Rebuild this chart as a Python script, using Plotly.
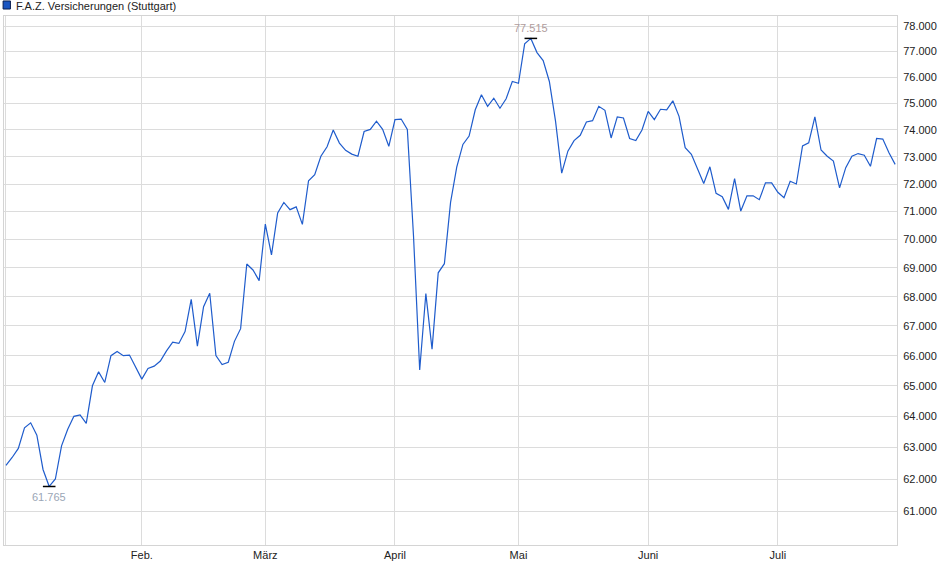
import numpy as np
import pandas as pd
import plotly.graph_objects as go

# trading days at Boerse Stuttgart, Jan 2 - Jul 28 2025
holidays = ["2025-04-18", "2025-04-21", "2025-05-01"]
days = pd.bdate_range("2025-01-02", "2025-07-28")
days = [d.strftime("%Y-%m-%d") for d in days if d.strftime("%Y-%m-%d") not in holidays]

kurs = [
    62.43, 62.68, 62.97, 63.63, 63.79, 63.39, 62.30, 61.765, 62.00, 63.05,
    63.58, 64.00, 64.05, 63.77, 65.00, 65.46, 65.11, 66.00, 66.14, 66.00,
    66.02, 65.60, 65.22, 65.57, 65.65, 65.82, 66.16, 66.45, 66.41, 66.81,
    67.91, 66.32, 67.66, 68.12, 66.00, 65.70, 65.78, 66.48, 66.91, 69.14,
    68.93, 68.56, 70.55, 69.46, 70.95, 71.33, 71.07, 71.17, 70.54, 72.12,
    72.34, 73.02, 73.37, 74.00, 73.51, 73.24, 73.10, 73.02, 73.94, 74.02,
    74.33, 74.02, 73.39, 74.39, 74.41, 74.02, 70.13, 65.52, 68.11, 66.22,
    68.83, 69.15, 71.33, 72.62, 73.46, 73.77, 74.76, 75.33, 74.89, 75.20,
    74.82, 75.18, 75.84, 75.77, 77.30, 77.515, 76.96, 76.65, 75.84, 74.33,
    72.40, 73.21, 73.60, 73.80, 74.30, 74.35, 74.89, 74.74, 73.70, 74.49,
    74.45, 73.68, 73.60, 74.00, 74.70, 74.39, 74.78, 74.76, 75.10, 74.51,
    73.34, 73.09, 72.54, 72.02, 72.63, 71.66, 71.54, 71.08, 72.20, 71.02,
    71.57, 71.57, 71.43, 72.04, 72.04, 71.70, 71.50, 72.10, 72.00, 73.40,
    73.52, 74.49, 73.25, 73.02, 72.84, 71.86, 72.60, 73.02, 73.12, 73.06,
    72.65, 73.68, 73.66, 73.15, 72.72,
]

month_days = ["2025-01-02", "2025-02-03", "2025-03-03", "2025-04-01", "2025-05-02", "2025-06-02", "2025-07-01"]
month_labels = ["", "Feb.", "März", "April", "Mai", "Juni", "Juli"]
y_ticks = list(range(61, 79))
y_labels = [f"{v}.000" for v in y_ticks]

i_max = int(np.argmax(kurs))
i_min = int(np.argmin(kurs))

fig = go.Figure()

fig.add_trace(go.Scatter(
    x=days, y=kurs, mode="lines",
    line=dict(color="#1f5ccc", width=1.2),
    hoverinfo="x+y", showlegend=False
))

# small black marks at high and low
fig.add_trace(go.Scatter(
    x=[days[i_max], days[i_min]], y=[kurs[i_max], kurs[i_min]],
    mode="markers",
    marker=dict(symbol="line-ew", size=9, line=dict(color="black", width=1.5)),
    hoverinfo="skip", showlegend=False
))

fig.add_annotation(
    x=days[i_max], y=np.log10(kurs[i_max]), text=f"{kurs[i_max]:.3f}",
    showarrow=False, yanchor="bottom", yshift=2,
    font=dict(size=11, color="#b09c9c")
)
fig.add_annotation(
    x=days[i_min], y=np.log10(kurs[i_min]), text=f"{kurs[i_min]:.3f}",
    showarrow=False, yanchor="top", yshift=-3,
    font=dict(size=11, color="#9aa6b6")
)

# legend box
fig.add_shape(type="rect", xref="paper", yref="paper",
              x0=-0.001, x1=0.0072, y0=1.0132, y1=1.0284,
              fillcolor="#1a55c2", line=dict(color="#0a1e50", width=1))
fig.add_annotation(
    xref="paper", yref="paper", x=0.0112, y=1.0195,
    text="F.A.Z. Versicherungen (Stuttgart)", showarrow=False,
    xanchor="left", yanchor="middle",
    font=dict(size=11, color="#222222")
)

fig.update_layout(
    width=940, height=579,
    margin=dict(l=3, r=42, t=16, b=34),
    paper_bgcolor="white", plot_bgcolor="white",
    font=dict(family="Liberation Sans, Arial, sans-serif", size=11, color="#222222"),
)

fig.update_xaxes(
    type="category",
    range=[-0.32, 144.3],
    tickmode="array", tickvals=month_days, ticktext=month_labels,
    showgrid=True, gridcolor="#dcdcdc", gridwidth=1,
    showline=True, linecolor="#d4d4d4", mirror=True,
    ticks="",
    tickfont=dict(size=11, color="#222222"),
    zeroline=False,
)

fig.update_yaxes(
    type="log",
    range=[np.log10(59.96), np.log10(78.40)],
    side="right",
    tickmode="array", tickvals=y_ticks, ticktext=y_labels,
    showgrid=True, gridcolor="#dcdcdc", gridwidth=1,
    showline=True, linecolor="#d4d4d4", mirror=True,
    ticks="", ticklabelstandoff=3,
    tickfont=dict(size=11, color="#222222"),
    zeroline=False,
)

fig.write_html("out.html", config={"displayModeBar": False},
               post_script="document.body.style.margin='0';")
